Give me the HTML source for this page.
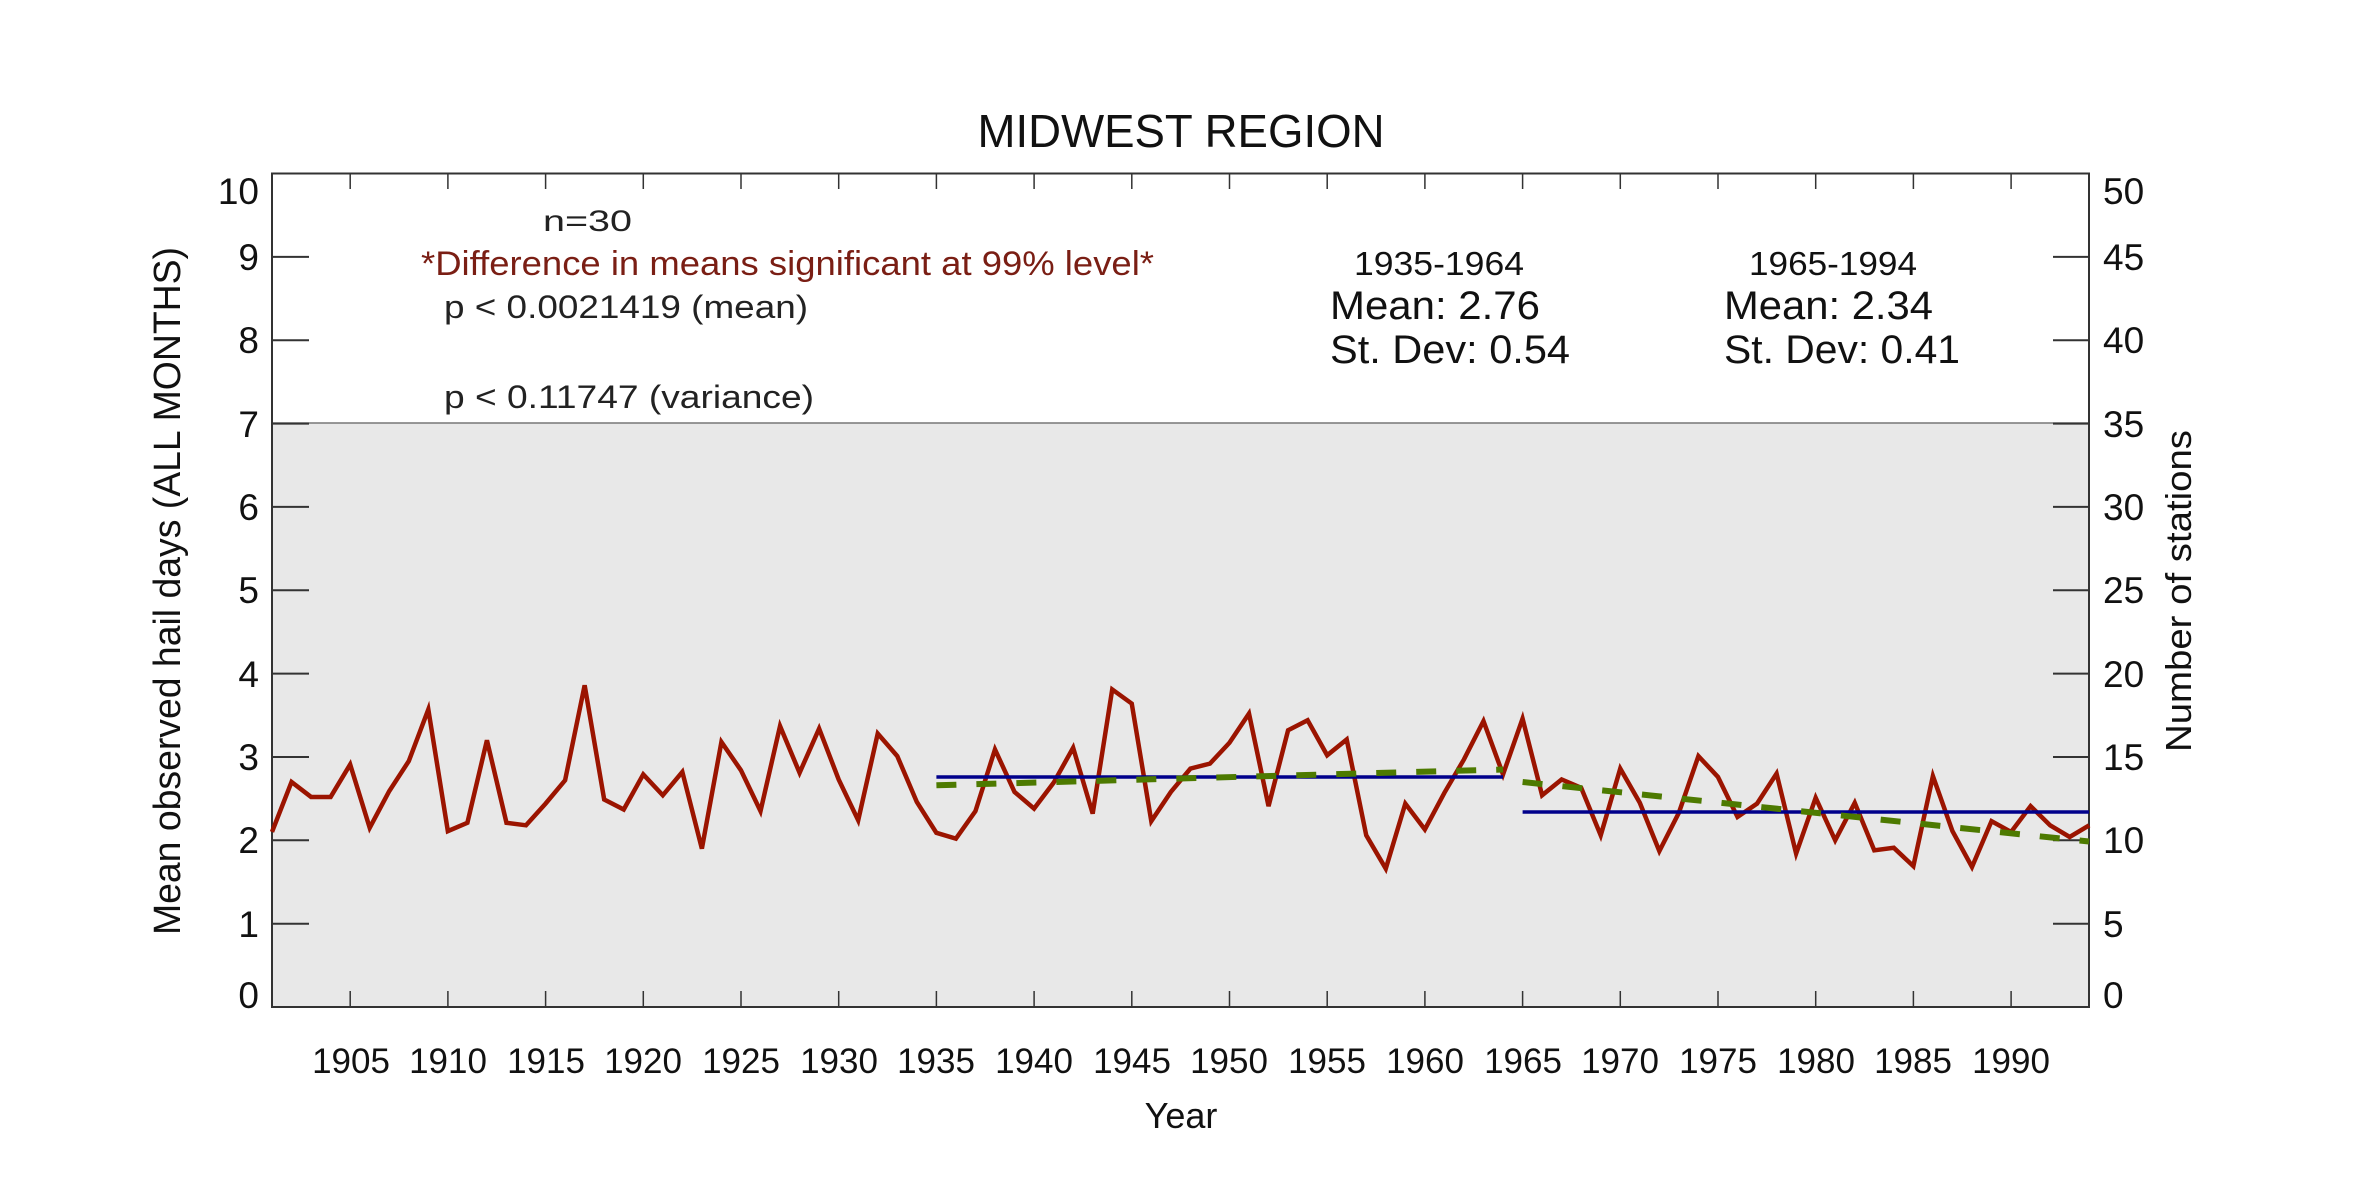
<!DOCTYPE html>
<html><head><meta charset="utf-8"><style>html,body{margin:0;padding:0;background:#fff}svg{display:block}text{font-family:"Liberation Sans",sans-serif}</style></head>
<body>
<svg width="2362" height="1181" viewBox="0 0 2362 1181" xmlns="http://www.w3.org/2000/svg">
<rect x="0" y="0" width="2362" height="1181" fill="#fff"/>
<rect x="272" y="423" width="1817" height="584" fill="#e8e8e8"/>
<line x1="272" y1="423" x2="2089" y2="423" stroke="#777" stroke-width="1.5"/>
<g stroke="#333" stroke-width="2">
<path d="M272 173.5h37M272 256.9h37M272 340.2h37M272 423.6h37M272 506.9h37M272 590.3h37M272 673.6h37M272 757h37M272 840.3h37M272 923.7h37M272 1007h37"/>
<path d="M2089 173.5h-36M2089 256.9h-36M2089 340.2h-36M2089 423.6h-36M2089 506.9h-36M2089 590.3h-36M2089 673.6h-36M2089 757h-36M2089 840.3h-36M2089 923.7h-36M2089 1007h-36"/>
</g>
<g stroke="#333" stroke-width="1.5">
<path d="M350.2 173v16M447.9 173v16M545.6 173v16M643.3 173v16M741 173v16M838.7 173v16M936.4 173v16M1034.1 173v16M1131.8 173v16M1229.5 173v16M1327.2 173v16M1424.9 173v16M1522.6 173v16M1620.3 173v16M1718 173v16M1815.7 173v16M1913.4 173v16M2011.1 173v16"/>
<path d="M350.2 1007v-16M447.9 1007v-16M545.6 1007v-16M643.3 1007v-16M741 1007v-16M838.7 1007v-16M936.4 1007v-16M1034.1 1007v-16M1131.8 1007v-16M1229.5 1007v-16M1327.2 1007v-16M1424.9 1007v-16M1522.6 1007v-16M1620.3 1007v-16M1718 1007v-16M1815.7 1007v-16M1913.4 1007v-16M2011.1 1007v-16"/>
</g>
<rect x="272" y="173.5" width="1817" height="833.5" fill="none" stroke="#333" stroke-width="2"/>
<g transform="translate(272,1007) scale(19.54,-83.35) translate(-1901,0)">
<polyline fill="none" stroke="#9b1400" stroke-width="4.5" stroke-linejoin="miter" vector-effect="non-scaling-stroke" points="1901,2.10 1902,2.70 1903,2.52 1904,2.52 1905,2.91 1906,2.15 1907,2.59 1908,2.95 1909,3.57 1910,2.11 1911,2.21 1912,3.20 1913,2.21 1914,2.18 1915,2.44 1916,2.72 1917,3.86 1918,2.49 1919,2.37 1920,2.79 1921,2.54 1922,2.82 1923,1.90 1924,3.18 1925,2.84 1926,2.35 1927,3.37 1928,2.81 1929,3.34 1930,2.73 1931,2.24 1932,3.28 1933,3.01 1934,2.46 1935,2.09 1936,2.02 1937,2.35 1938,3.09 1939,2.58 1940,2.38 1941,2.69 1942,3.11 1943,2.32 1944,3.81 1945,3.64 1946,2.23 1947,2.58 1948,2.86 1949,2.92 1950,3.17 1951,3.52 1952,2.41 1953,3.32 1954,3.44 1955,3.02 1956,3.21 1957,2.06 1958,1.66 1959,2.44 1960,2.13 1961,2.57 1962,2.97 1963,3.43 1964,2.79 1965,3.46 1966,2.54 1967,2.73 1968,2.63 1969,2.06 1970,2.86 1971,2.45 1972,1.87 1973,2.33 1974,3.01 1975,2.76 1976,2.28 1977,2.44 1978,2.80 1979,1.84 1980,2.51 1981,2.00 1982,2.45 1983,1.88 1984,1.91 1985,1.69 1986,2.77 1987,2.11 1988,1.68 1989,2.23 1990,2.10 1991,2.41 1992,2.18 1993,2.04 1994,2.18"/>
</g>
<line x1="936.4" y1="777" x2="1503" y2="777" stroke="#00008b" stroke-width="3.5"/>
<line x1="1522.6" y1="812" x2="2089" y2="812" stroke="#00008b" stroke-width="3.5"/>
<line x1="936.4" y1="785.3" x2="1503" y2="769.5" stroke="#4d7a00" stroke-width="6" stroke-dasharray="20 20"/>
<line x1="1522.6" y1="782" x2="2089" y2="841.5" stroke="#4d7a00" stroke-width="6" stroke-dasharray="20 20"/>
<text x="1181" y="147" font-size="46" text-anchor="middle" textLength="407" lengthAdjust="spacingAndGlyphs" fill="#111">MIDWEST REGION</text>
<text x="543" y="231" font-size="30" textLength="89" lengthAdjust="spacingAndGlyphs" fill="#222">n=30</text>
<text x="421" y="275" font-size="34" textLength="733" lengthAdjust="spacingAndGlyphs" fill="#7a1e14">*Difference in means significant at 99% level*</text>
<text x="444" y="318" font-size="32" textLength="364" lengthAdjust="spacingAndGlyphs" fill="#222">p &lt; 0.0021419 (mean)</text>
<text x="444" y="408" font-size="32" textLength="370" lengthAdjust="spacingAndGlyphs" fill="#222">p &lt; 0.11747 (variance)</text>
<text x="1354" y="275" font-size="33" textLength="170" lengthAdjust="spacingAndGlyphs" fill="#111">1935-1964</text>
<text x="1330" y="319" font-size="40" textLength="210" lengthAdjust="spacingAndGlyphs" fill="#111">Mean: 2.76</text>
<text x="1330" y="363" font-size="40" textLength="240" lengthAdjust="spacingAndGlyphs" fill="#111">St. Dev: 0.54</text>
<text x="1749" y="275" font-size="33" textLength="168" lengthAdjust="spacingAndGlyphs" fill="#111">1965-1994</text>
<text x="1724" y="319" font-size="40" textLength="209" lengthAdjust="spacingAndGlyphs" fill="#111">Mean: 2.34</text>
<text x="1724" y="363" font-size="40" textLength="236" lengthAdjust="spacingAndGlyphs" fill="#111">St. Dev: 0.41</text>
<g font-size="37" fill="#111" text-anchor="end">
<text x="259" y="204">10</text><text x="259" y="270">9</text><text x="259" y="353">8</text><text x="259" y="437">7</text><text x="259" y="520">6</text><text x="259" y="603">5</text><text x="259" y="687">4</text><text x="259" y="770">3</text><text x="259" y="853">2</text><text x="259" y="937">1</text><text x="259" y="1008">0</text>
</g>
<g font-size="37" fill="#111">
<text x="2103" y="204">50</text><text x="2103" y="270">45</text><text x="2103" y="353">40</text><text x="2103" y="437">35</text><text x="2103" y="520">30</text><text x="2103" y="603">25</text><text x="2103" y="687">20</text><text x="2103" y="770">15</text><text x="2103" y="853">10</text><text x="2103" y="937">5</text><text x="2103" y="1008">0</text>
</g>
<g font-size="35" fill="#111" text-anchor="middle">
<text x="351" y="1073">1905</text><text x="448" y="1073">1910</text><text x="546" y="1073">1915</text><text x="643" y="1073">1920</text><text x="741" y="1073">1925</text><text x="839" y="1073">1930</text><text x="936" y="1073">1935</text><text x="1034" y="1073">1940</text><text x="1132" y="1073">1945</text><text x="1229" y="1073">1950</text><text x="1327" y="1073">1955</text><text x="1425" y="1073">1960</text><text x="1523" y="1073">1965</text><text x="1620" y="1073">1970</text><text x="1718" y="1073">1975</text><text x="1816" y="1073">1980</text><text x="1913" y="1073">1985</text><text x="2011" y="1073">1990</text>
</g>
<text x="1181" y="1128" font-size="36" text-anchor="middle" fill="#111">Year</text>
<text transform="translate(180,591) rotate(-90)" font-size="38" text-anchor="middle" textLength="688" lengthAdjust="spacingAndGlyphs" fill="#111">Mean observed hail days (ALL MONTHS)</text>
<text transform="translate(2191,591) rotate(-90)" font-size="36" text-anchor="middle" textLength="322" lengthAdjust="spacingAndGlyphs" fill="#111">Number of stations</text>
</svg>
</body></html>
